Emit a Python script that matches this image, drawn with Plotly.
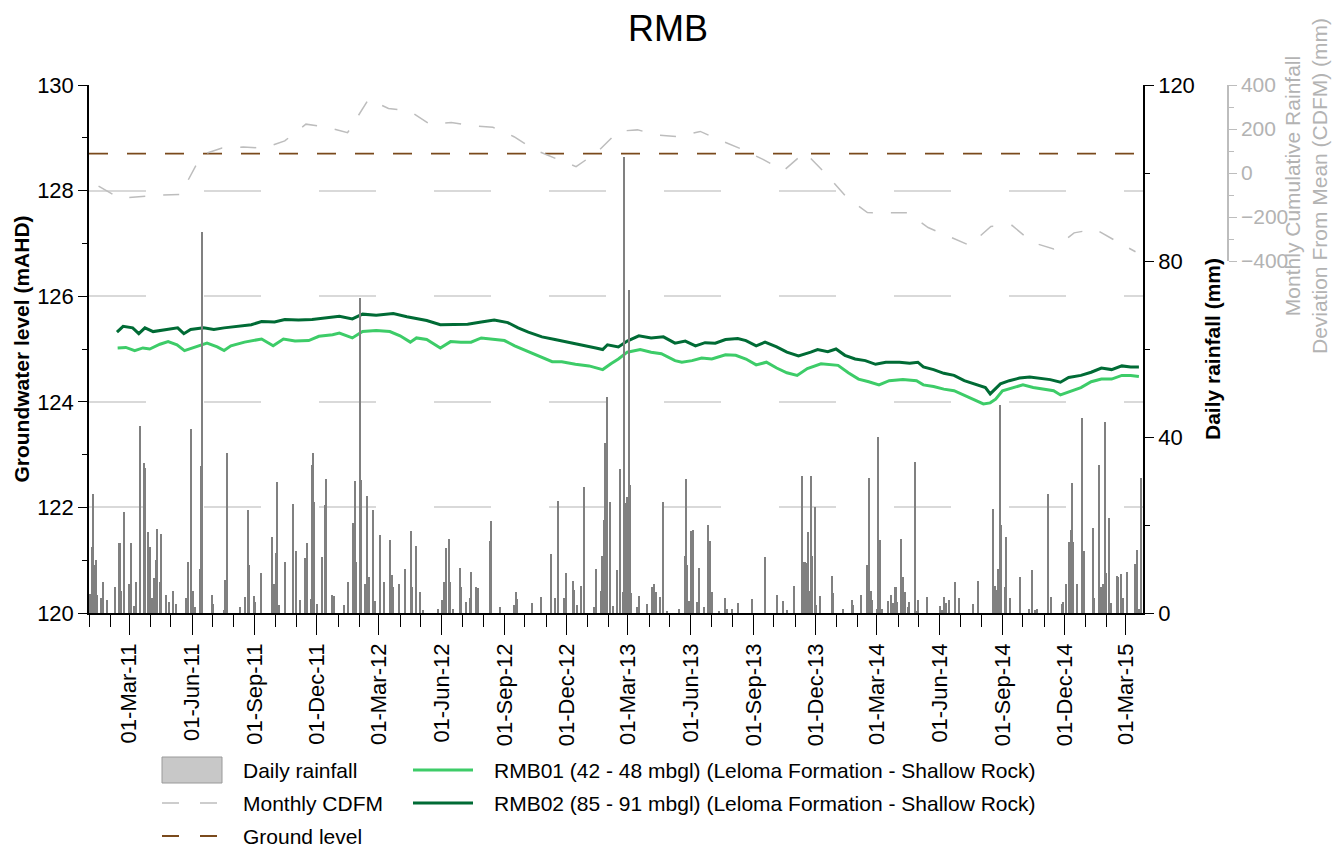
import pandas as pd
import plotly.graph_objects as go

# ---- data ----
start_date = "2011-01-01"
end_date = "2015-03-26"

# daily rainfall: day number since start_date, mm
rain_day = [
    1, 5, 6, 8, 10, 12, 18, 20, 27, 38,
    44, 45, 47, 51, 59, 61, 66, 69, 75, 81,
    82, 87, 89, 93, 96, 98, 100, 104, 106, 113,
    117, 123, 128, 142, 145, 150, 152, 156, 163, 164,
    166, 180, 182, 198, 200, 203, 221, 229, 233, 235,
    242, 244, 252, 268, 271, 274, 276, 279, 288, 299,
    303, 310, 317, 320, 325, 327, 329, 330, 335, 342,
    346, 347, 348, 357, 360, 374, 380, 387, 390, 392,
    397, 399, 404, 407, 410, 417, 419, 427, 432, 433,
    441, 445, 446, 454, 464, 472, 473, 480, 485, 490,
    512,
    518, 520, 523, 524, 528, 530, 533, 544, 545, 553,
    558, 560, 568, 570, 588, 589, 602, 623, 626, 628,
    650, 662, 678, 683, 688, 697, 700, 709, 711, 715,
    722, 726, 740, 744, 751, 752, 754, 755, 757, 759,
    764, 768, 774, 779, 783, 785, 786, 789, 792, 793,
    795, 803, 806, 818, 825, 828, 831, 837, 842, 847,
    865, 874, 875, 877, 879, 883, 885, 891, 894, 902,
    908, 911, 913, 923, 932, 936, 943, 951, 972, 991,
    1008, 1017, 1023, 1033,
    1046, 1047, 1050, 1051, 1054, 1055, 1058, 1060, 1064, 1066,
    1072, 1090, 1091, 1105, 1119, 1120, 1132, 1140, 1144, 1146,
    1148, 1155, 1156, 1157, 1159, 1162, 1171, 1176, 1178, 1181,
    1183, 1185, 1191, 1193, 1197, 1200, 1202, 1211, 1213, 1216,
    1228, 1248, 1250, 1254, 1257, 1261, 1269, 1276, 1296, 1304,
    1325, 1328, 1331, 1333, 1335, 1337, 1343, 1345, 1350, 1365,
    1378, 1383, 1387, 1390, 1406, 1411, 1426, 1428, 1433, 1436,
    1439, 1441, 1443, 1449, 1456, 1459, 1472, 1474, 1481, 1483,
    1487, 1489, 1491, 1495, 1498, 1507, 1509, 1513, 1516, 1521,
    1533, 1536, 1539, 1542,
]
rain_mm = [
    4.3, 15, 27, 11, 12, 4, 3.3, 7, 3, 6,
    16, 16, 5, 23, 6.5, 16, 1.5, 7, 42.6, 34,
    33, 18.5, 15, 3.3, 8, 12, 19, 7, 18, 4,
    2.6, 5, 2, 3.3, 11.7, 41.9, 5, 1.3, 10, 33.4,
    86.5, 4, 2, 0.7, 7.6, 36.4, 1.4, 3.6, 23.3, 11,
    3.9, 2.4, 9.2, 17.2, 6.7, 13.6, 29.7, 1.8, 11.7, 24.7,
    14.2, 3, 12.4, 15.8, 3.1, 33.6, 36.4, 25.3, 2, 12.7,
    24.5, 30.5, 5.6, 4.2, 3.9, 1.8, 7.1, 20.5, 30, 11.7,
    71.5, 30.2, 6.7, 26.7, 8.1, 23.3, 2.7, 17.7, 7.1, 3.9,
    16.6, 8.6, 6, 6.5, 10, 18.7, 6, 15.2, 4.8, 0.7,
    1,
    3, 7.1, 14.8, 8.8, 16.8, 7.1, 1, 10.3, 6, 2.6,
    3.3, 9.4, 6, 5.6, 16.4, 20.9, 1.3, 1.8, 4.8, 3.1,
    2.3, 3.6, 13.3, 3.3, 25.5, 3.3, 9.2, 7.3, 5.2, 1.8,
    6.1, 28.6, 1.3, 9.9, 5, 13, 6.7, 21.1, 38.7, 49,
    25.2, 1.6, 9.8, 32.7, 4.8, 103.6, 25, 26.4, 73.4, 29.2,
    4.5, 1.4, 3.9, 2, 5.8, 6.5, 4.7, 3.6, 25.3, 0.5,
    1, 13, 30.5, 11, 2.7, 18.7, 18.9, 2.4, 10.3, 1.4,
    20, 16.4, 4.7, 0.5, 3.3, 1, 1, 2.3, 3.1, 12.7,
    4.1, 2.7, 0.7, 6.2,
    31.1, 11.7, 11.5, 11.3, 18.3, 5, 31.1, 13, 24.2, 1.8,
    3.9, 8.4, 4.6, 0.8, 3, 1.8, 4.1, 10.9, 30.6, 5,
    3, 1, 40.1, 34.2, 16.7, 1, 2.8, 4.1, 2.2, 5.8,
    6, 2.4, 16.9, 8.1, 4.8, 1.3, 2.4, 34.3, 0.5, 3,
    3.6, 1.6, 0.7, 3.6, 2.2, 3, 7.1, 3.3, 2, 7.3,
    23.6, 6.1, 5.2, 10, 47.3, 20, 5.8, 17.3, 3.5, 8.1,
    0.8, 9.8, 0.7, 0.8, 27, 3.6, 2, 2.6, 6.7, 16.1,
    18.9, 29.5, 16.2, 6.7, 44.4, 14.1, 19.4, 3.3, 33.6, 5.8,
    6.6, 43.5, 9.2, 21.7, 2.3, 8.3, 8.1, 8.8, 3.3, 9.4,
    11.1, 14.3, 1, 30.6,
]

# monthly CDFM (plotted mid-month), mm
cdfm_month = [
    "2011-01", "2011-02", "2011-03", "2011-04", "2011-05", "2011-06",
    "2011-07", "2011-08", "2011-09", "2011-10", "2011-11", "2011-12",
    "2012-01", "2012-02", "2012-03", "2012-04", "2012-05", "2012-06",
    "2012-07", "2012-08", "2012-09", "2012-10", "2012-11", "2012-12",
    "2013-01", "2013-02", "2013-03", "2013-04", "2013-05", "2013-06",
    "2013-07", "2013-08", "2013-09", "2013-10", "2013-11", "2013-12",
    "2014-01", "2014-02", "2014-03", "2014-04", "2014-05", "2014-06",
    "2014-07", "2014-08", "2014-09", "2014-10", "2014-11", "2014-12",
    "2015-01", "2015-02", "2015-03",
]
cdfm_mm = [
    -60, -115, -108, -100, -98, 82, 114, 118, 113, 146, 222, 209,
    183, 336, 293, 282, 221, 230, 215, 208, 165, 106, 66, 29,
    95, 190, 196, 172, 165, 189, 148, 108, 62, 10, 94, 0,
    -108, -180, -181, -181, -248, -290, -329, -243, -238, -316, -345, -272,
    -255, -310, -358,
]

ground_level = 128.7

# groundwater levels (mAHD), day number since start_date
rmb01_day = [
    42, 54, 67, 79, 89, 104, 116, 129, 140, 154, 173, 188, 198, 208, 228,
    253, 270, 285, 302, 322, 337, 357, 367, 386, 401, 421, 441, 456, 471, 480,
    495, 515, 530, 545, 560, 575, 594, 609, 624, 639, 659, 679, 693, 713, 733,
    753, 765, 776, 789, 808, 824, 839, 859, 869, 884, 898, 913, 933, 948, 963,
    978, 993, 1008, 1023, 1038, 1053, 1073, 1088, 1098, 1113, 1128, 1143, 1158, 1173, 1193,
    1213, 1223, 1238, 1253, 1268, 1283, 1298, 1311, 1321, 1329, 1339, 1354, 1369, 1384, 1399,
    1414, 1424, 1436, 1454, 1469, 1484, 1499, 1514, 1527, 1539,
]
rmb01_level = [
    125.02, 125.03, 124.97, 125.02, 125.00, 125.09, 125.14, 125.08, 124.97, 125.03, 125.11, 125.04, 124.97, 125.06, 125.13,
    125.19, 125.06, 125.19, 125.15, 125.16, 125.24, 125.27, 125.30, 125.21, 125.33, 125.35, 125.33, 125.25, 125.13, 125.21,
    125.18, 125.02, 125.14, 125.13, 125.13, 125.21, 125.19, 125.16, 125.06, 124.98, 124.87, 124.76, 124.76, 124.71, 124.68,
    124.61, 124.72, 124.81, 124.94, 124.99, 124.94, 124.91, 124.78, 124.75, 124.78, 124.83, 124.81, 124.89, 124.88, 124.81,
    124.70, 124.75, 124.64, 124.55, 124.50, 124.63, 124.72, 124.70, 124.69, 124.55, 124.43, 124.38, 124.32, 124.40, 124.42,
    124.40, 124.32, 124.29, 124.24, 124.21, 124.12, 124.04, 123.96, 123.98, 124.05, 124.21, 124.27, 124.32, 124.27, 124.24,
    124.21, 124.13, 124.19, 124.27, 124.38, 124.43, 124.43, 124.50, 124.50, 124.48,
]
rmb02_day = [
    41, 50, 64, 73, 82, 94, 114, 130, 139, 149, 168, 183, 198, 218, 238,
    253, 272, 287, 307, 327, 347, 367, 386, 401, 421, 446, 466, 480, 495, 515,
    535, 555, 575, 594, 614, 629, 644, 664, 683, 703, 723, 743, 753, 760, 776,
    789, 806, 824, 842, 859, 874, 889, 903, 918, 933, 951, 963, 978, 991, 1008,
    1023, 1040, 1058, 1068, 1083, 1095, 1108, 1123, 1138, 1153, 1168, 1188, 1203, 1215, 1223,
    1238, 1253, 1268, 1283, 1298, 1314, 1321, 1326, 1336, 1349, 1364, 1379, 1394, 1409, 1424,
    1436, 1454, 1469, 1484, 1499, 1514, 1527, 1539,
]
rmb02_level = [
    125.32, 125.43, 125.40, 125.29, 125.40, 125.33, 125.37, 125.40, 125.29, 125.37, 125.40, 125.37, 125.40, 125.43, 125.46,
    125.52, 125.51, 125.56, 125.55, 125.56, 125.59, 125.62, 125.57, 125.66, 125.64, 125.67, 125.61, 125.57, 125.54, 125.46,
    125.46, 125.47, 125.51, 125.55, 125.50, 125.40, 125.32, 125.23, 125.18, 125.13, 125.08, 125.02, 124.99, 125.08, 125.04,
    125.15, 125.25, 125.21, 125.23, 125.11, 125.15, 125.06, 125.12, 125.11, 125.18, 125.20, 125.16, 125.06, 125.13, 125.04,
    124.94, 124.87, 124.94, 124.99, 124.95, 125.00, 124.88, 124.81, 124.78, 124.71, 124.75, 124.75, 124.73, 124.75, 124.66,
    124.61, 124.54, 124.50, 124.40, 124.34, 124.27, 124.15, 124.21, 124.34, 124.40, 124.45, 124.47, 124.44, 124.42, 124.37,
    124.46, 124.50, 124.56, 124.64, 124.61, 124.68, 124.66, 124.66,
]

# ---- styling ----
FONT = "Liberation Sans, Arial, sans-serif"
C_RMB01 = "#3dcc68"
C_RMB02 = "#006b35"
C_CDFM = "#bdbdbd"
C_GROUND = "#7a4a1c"
C_RAIN = "#808080"

# the page puts the figure 8px in from the top-left corner
OFF = 8
W, H = 1344 - OFF, 849 - OFF
M_L, M_R, M_T, M_B = 89 - OFF, 40, 85 - OFF, 236
PW, PH = W - M_L - M_R, H - M_T - M_B
PLOT_RIGHT = 1143


def px(x):
    # page pixel -> paper x
    return (x - OFF - M_L) / PW


def py(y):
    # page pixel -> paper y
    return (H - M_B - (y - OFF)) / PH


def to_dates(days):
    return pd.Timestamp(start_date) + pd.to_timedelta(days, unit="D")


fig = go.Figure()

fig.add_trace(go.Bar(
    x=to_dates(rain_day), y=rain_mm, yaxis="y2",
    width=86400000 * 1.8,
    marker=dict(color=C_RAIN, line_width=0),
    name="Daily rainfall", showlegend=False,
))
fig.add_trace(go.Scatter(
    x=[m + "-15" for m in cdfm_month], y=cdfm_mm, yaxis="y3",
    mode="lines", line=dict(color=C_CDFM, width=1.5, dash="16px,18px"),
    name="Monthly CDFM", showlegend=False,
))
fig.add_trace(go.Scatter(
    x=[start_date, end_date], y=[ground_level, ground_level],
    mode="lines", line=dict(color=C_GROUND, width=1.8, dash="19px,19px"),
    name="Ground level", showlegend=False,
))
fig.add_trace(go.Scatter(
    x=to_dates(rmb01_day), y=rmb01_level,
    mode="lines", line=dict(color=C_RMB01, width=3),
    name="RMB01 (42 - 48 mbgl) (Leloma Formation - Shallow Rock)", showlegend=False,
))
fig.add_trace(go.Scatter(
    x=to_dates(rmb02_day), y=rmb02_level,
    mode="lines", line=dict(color=C_RMB02, width=3),
    name="RMB02 (85 - 91 mbgl) (Leloma Formation - Shallow Rock)", showlegend=False,
))

# ---- hand-drawn legend (two columns, like the original) ----
shapes = []
annotations = []
rows = [770, 803, 836]
shapes.append(dict(type="rect", xref="paper", yref="paper",
                   x0=px(162), x1=px(222), y0=py(783), y1=py(757),
                   fillcolor="#c8c8c8", line=dict(color="#9a9a9a", width=1)))
shapes.append(dict(type="line", xref="paper", yref="paper",
                   x0=px(162), x1=px(222), y0=py(rows[1]), y1=py(rows[1]),
                   line=dict(color=C_CDFM, width=1.5, dash="17px,21px")))
shapes.append(dict(type="line", xref="paper", yref="paper",
                   x0=px(162), x1=px(222), y0=py(rows[2]), y1=py(rows[2]),
                   line=dict(color=C_GROUND, width=1.8, dash="17px,21px")))
shapes.append(dict(type="line", xref="paper", yref="paper",
                   x0=px(413), x1=px(473), y0=py(rows[0]), y1=py(rows[0]),
                   line=dict(color=C_RMB01, width=3)))
shapes.append(dict(type="line", xref="paper", yref="paper",
                   x0=px(413), x1=px(473), y0=py(rows[1]), y1=py(rows[1]),
                   line=dict(color=C_RMB02, width=3)))

legend_text = [
    (241, rows[0], "Daily rainfall"),
    (241, rows[1], "Monthly CDFM"),
    (241, rows[2], "Ground level"),
    (492, rows[0], "RMB01 (42 - 48 mbgl) (Leloma Formation - Shallow Rock)"),
    (492, rows[1], "RMB02 (85 - 91 mbgl) (Leloma Formation - Shallow Rock)"),
]
for x, y, t in legend_text:
    annotations.append(dict(xref="paper", yref="paper", x=px(x), y=py(y),
                            text=t, showarrow=False, xanchor="left", yanchor="middle",
                            font=dict(family=FONT, size=21, color="black")))

annotations.append(dict(
    xref="paper", yref="paper", x=px(1306), y=py(186),
    text="Monthly Cumulative Rainfall<br>Deviation From Mean (CDFM) (mm)",
    textangle=-90, showarrow=False, xanchor="center", yanchor="middle",
    font=dict(family=FONT, size=21, color="#b3b3b3"),
))

fig.update_layout(
    width=W, height=H,
    margin=dict(l=M_L, r=M_R, t=M_T, b=M_B),
    # transparent plot area: the CDFM panel sits on top of the main one
    plot_bgcolor="rgba(0,0,0,0)", paper_bgcolor="white",
    font=dict(family=FONT, size=22, color="black"),
    title=dict(text="RMB", x=px(668), xref="paper", xanchor="center",
               y=1 - (28 - OFF) / H, yanchor="middle",
               font=dict(family=FONT, size=36, color="black")),
    showlegend=False,
    bargap=0,
    shapes=shapes,
    annotations=annotations,
    xaxis=dict(
        type="date", domain=[0, px(PLOT_RIGHT)],
        range=[start_date, end_date],
        tickformat="%d-%b-%y", dtick="M3", tick0="2011-03-01", tickangle=-90,
        ticks="outside", ticklen=20, tickwidth=1.2, tickcolor="black",
        minor=dict(dtick="M1", tick0=start_date, ticks="outside", ticklen=12,
                   tickwidth=1.2, tickcolor="black"),
        showline=True, linecolor="black", linewidth=1.5,
        showgrid=False, zeroline=False,
        tickfont=dict(size=22),
    ),
    yaxis=dict(
        range=[120, 130], dtick=2, ticks="outside", ticklen=9, tickcolor="black",
        minor=dict(dtick=1, ticks="outside", ticklen=5, tickcolor="black"),
        showline=True, linecolor="black", linewidth=1.5,
        showgrid=True, gridcolor="#d9d9d9", gridwidth=1.5, griddash="57px,58px",
        zeroline=False,
        title=dict(text="<b>Groundwater level (mAHD)</b>", font=dict(size=21), standoff=2),
        tickfont=dict(size=22),
    ),
    yaxis2=dict(
        overlaying="y", side="right", anchor="x",
        range=[0, 120], dtick=40, ticks="outside", ticklen=9, tickcolor="black",
        minor=dict(dtick=20, ticks="outside", ticklen=5, tickcolor="black"),
        showline=True, linecolor="black", linewidth=1.5,
        showgrid=False, zeroline=False,
        title=dict(text="<b>Daily rainfall (mm)</b>", font=dict(size=21), standoff=11),
        tickfont=dict(size=22),
    ),
    yaxis3=dict(
        domain=[py(261), 1], anchor="free", position=px(1228), side="right",
        range=[-400, 400], dtick=200, ticks="outside", ticklen=8, tickcolor="#bdbdbd",
        minor=dict(dtick=100, ticks="outside", ticklen=5, tickcolor="#bdbdbd"),
        showline=True, linecolor="#bdbdbd", linewidth=1.5,
        showgrid=False, zeroline=False,
        tickfont=dict(size=21, color="#b3b3b3"),
    ),
)

fig.write_html("out.html")
